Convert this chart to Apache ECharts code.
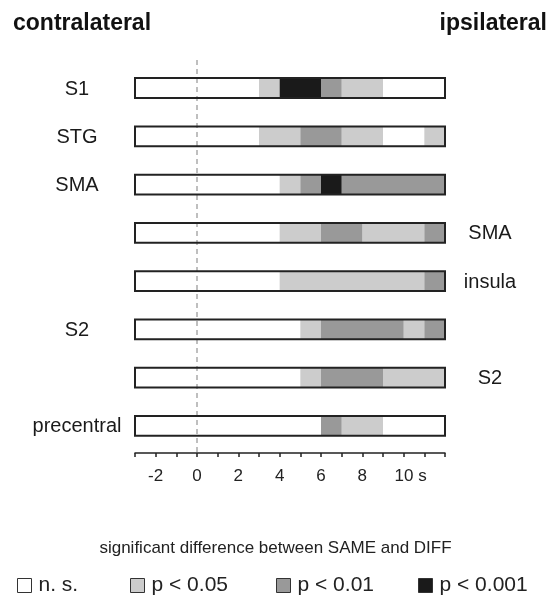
<!DOCTYPE html>
<html>
<head>
<meta charset="utf-8">
<script src="https://cdn.jsdelivr.net/npm/echarts@6/dist/echarts.min.js"></script>
<style>
html,body{margin:0;padding:0;background:#fff;}
#chart{width:551px;height:597px;}
</style>
</head>
<body>
<div id="chart"></div>
<script>
// ---- data ----
const regions = ['S1', 'STG', 'SMA', 'SMA', 'insula', 'S2', 'S2', 'precentral'];
const sides = ['contralateral', 'contralateral', 'contralateral', 'ipsilateral', 'ipsilateral', 'contralateral', 'ipsilateral', 'contralateral'];
// segments per row: [start s, end s, significance level]  (0 = n.s., 1 = p<0.05, 2 = p<0.01, 3 = p<0.001)
const segS1 = [[-3, 3, 0], [3, 4, 1], [4, 6, 3], [6, 7, 2], [7, 9, 1], [9, 12, 0]];
const segSTG = [[-3, 3, 0], [3, 5, 1], [5, 7, 2], [7, 9, 1], [9, 11, 0], [11, 12, 1]];
const segSMAc = [[-3, 4, 0], [4, 5, 1], [5, 6, 2], [6, 7, 3], [7, 12, 2]];
const segSMAi = [[-3, 4, 0], [4, 6, 1], [6, 8, 2], [8, 11, 1], [11, 12, 2]];
const segInsula = [[-3, 4, 0], [4, 11, 1], [11, 12, 2]];
const segS2c = [[-3, 5, 0], [5, 6, 1], [6, 10, 2], [10, 11, 1], [11, 12, 2]];
const segS2i = [[-3, 5, 0], [5, 6, 1], [6, 9, 2], [9, 12, 1]];
const segPrecentral = [[-3, 6, 0], [6, 7, 2], [7, 9, 1], [9, 12, 0]];
const rows = [segS1, segSTG, segSMAc, segSMAi, segInsula, segS2c, segS2i, segPrecentral];
const levelNames = ['n. s.', 'p < 0.05', 'p < 0.01', 'p < 0.001'];
const levelColors = ['#ffffff', '#cccccc', '#999999', '#1a1a1a'];
const timeMin = -3, timeMax = 12;
const tickValues = [-2, 0, 2, 4, 6, 8, 10];
const tickTexts = ['-2', '0', '2', '4', '6', '8', '10 s'];
const footnote = 'significant difference between SAME and DIFF';

// ---- chart ----
const FONT = '"Liberation Sans", Arial, Helvetica, sans-serif';
const chart = echarts.init(document.getElementById('chart'), null, {renderer: 'canvas'});

function segItem(params, api) {
  const s = api.coord([api.value(0), api.value(2)]);
  const e = api.coord([api.value(1), api.value(2)]);
  const h = api.size([0, 1])[1] * 0.41;
  return {
    type: 'rect',
    shape: {x: s[0], y: s[1] - h / 2, width: e[0] - s[0], height: h},
    style: {fill: api.visual('color')}
  };
}

const series = levelNames.map((name, lv) => {
  const data = [];
  rows.forEach((segs, r) => segs.forEach(sg => { if (sg[2] === lv) data.push([sg[0], sg[1], r]); }));
  return {
    name: name,
    type: 'custom',
    renderItem: segItem,
    itemStyle: {color: levelColors[lv], borderColor: '#333', borderWidth: 1},
    data: data,
    z: 2,
    clip: false,
    silent: true
  };
});

// outlines + labels
series.push({
  name: 'outline',
  type: 'custom',
  z: 5,
  clip: false,
  silent: true,
  data: regions.map((n, r) => [timeMin, timeMax, r]),
  renderItem: function (params, api) {
    const s = api.coord([api.value(0), api.value(2)]);
    const e = api.coord([api.value(1), api.value(2)]);
    const h = api.size([0, 1])[1] * 0.41;
    const r = params.dataIndex;
    const contra = sides[r] === 'contralateral';
    return {
      type: 'group',
      children: [
        {type: 'rect', shape: {x: s[0], y: s[1] - h / 2, width: e[0] - s[0], height: h},
         style: {fill: 'none', stroke: '#222', lineWidth: 2}},
        {type: 'text', x: contra ? s[0] - 58 : e[0] + 45, y: s[1] + 1,
         style: {text: regions[r], align: 'center', verticalAlign: 'middle',
                 font: '20px ' + FONT, fill: '#1a1a1a'}}
      ]
    };
  },
  markLine: {
    silent: true,
    symbol: 'none',
    label: {show: false},
    lineStyle: {color: '#aaaaaa', type: [5, 4], width: 1.5},
    data: [{xAxis: 0}]
  }
});

const legendLefts = [17, 130, 276, 418];
const legends = levelNames.map((n, i) => ({
  data: [n],
  left: legendLefts[i],
  top: 575,
  padding: 0,
  icon: 'rect',
  itemWidth: 14,
  itemHeight: 14,
  itemStyle: {borderColor: '#333', borderWidth: 1},
  textStyle: {fontFamily: FONT, fontSize: 21, color: '#222', padding: [0, 0, 0, 2]},
  selectedMode: false
}));

chart.setOption({
  backgroundColor: '#ffffff',
  animation: false,
  title: [
    {text: 'contralateral', left: 13, top: 12, padding: 0, textStyle: {fontFamily: FONT, fontSize: 23, fontWeight: 'bold', color: '#111'}},
    {text: 'ipsilateral', right: 4, top: 12, padding: 0, textStyle: {fontFamily: FONT, fontSize: 23, fontWeight: 'bold', color: '#111'}},
    {text: footnote, left: 'center', top: 535, textStyle: {fontFamily: FONT, fontSize: 17, fontWeight: 'normal', color: '#222'}}
  ],
  legend: legends,
  grid: {left: 135, right: 106, top: 60, bottom: 144, containLabel: false},
  xAxis: {
    type: 'value',
    min: timeMin,
    max: timeMax,
    interval: 1,
    splitLine: {show: false},
    axisLine: {show: true, onZero: false, lineStyle: {color: '#222', width: 1.5}},
    axisTick: {show: true, length: 4, lineStyle: {color: '#222', width: 1.5}},
    axisLabel: {
      margin: 15,
      fontFamily: FONT,
      fontSize: 17,
      color: '#222',
      showMinLabel: true,
      showMaxLabel: true,
      formatter: function (v) {
        const i = tickValues.indexOf(v);
        if (i < 0) return '';
        return i === tickValues.length - 1 ? '{s|' + tickTexts[i] + '}' : tickTexts[i];
      },
      rich: {s: {fontFamily: FONT, fontSize: 17, color: '#222', padding: [0, 0, 0, 14]}}
    }
  },
  yAxis: {type: 'value', inverse: true, min: -0.58, max: 7.56, show: false},
  series: series
});
</script>
</body>
</html>
